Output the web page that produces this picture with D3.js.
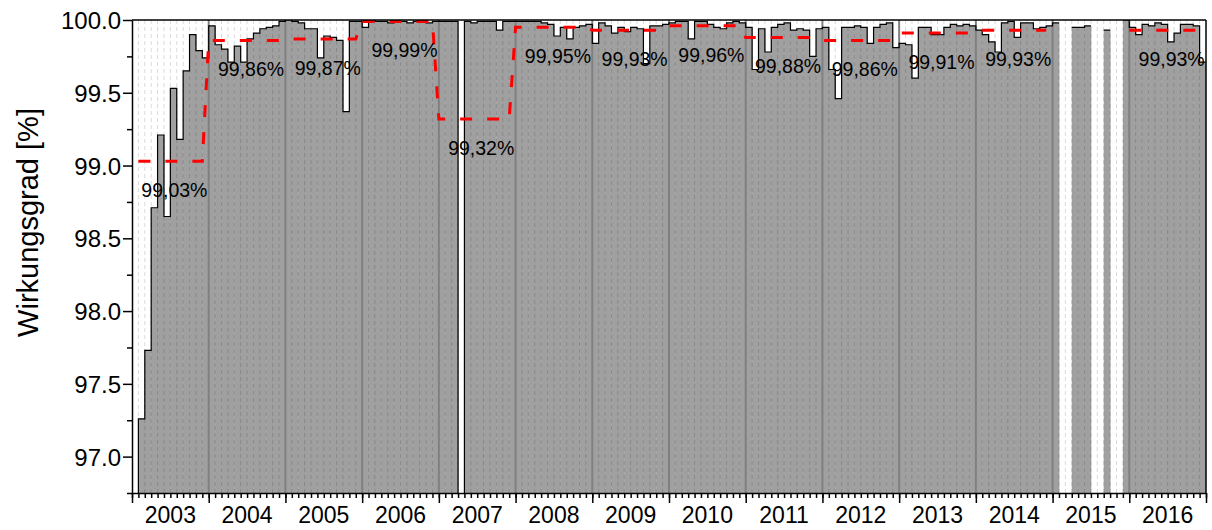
<!DOCTYPE html>
<html>
<head>
<meta charset="utf-8">
<script src="https://cdn.jsdelivr.net/npm/d3@7"></script>
<style>
body { margin: 0; background: #fff; }
svg text { font-family: Arial, "Liberation Sans", sans-serif; }
</style>
</head>
<body>
<div id="chart"></div>
<script>
// monthly efficiency values per year (jan..dec), null = no data
var years = [2003, 2004, 2005, 2006, 2007, 2008, 2009, 2010, 2011, 2012, 2013, 2014, 2015, 2016];
var eff2003 = [null, 97.26, 97.73, 98.71, 99.21, 98.65, 99.53, 99.18, 99.65, 99.90, 99.79, 99.74];
var eff2004 = [99.96, 99.83, 99.80, 99.71, 99.82, 99.71, 99.87, 99.91, 99.94, 99.95, 99.96, 99.99];
var eff2005 = [100.0, 99.99, 99.98, 99.94, 99.94, 99.74, 99.89, 99.88, 99.86, 99.37, 99.99, 99.99];
var eff2006 = [99.95, 100.0, 99.99, 99.99, 99.98, 99.99, 99.99, 99.98, 99.99, 99.99, 99.98, 99.99];
var eff2007 = [99.99, 99.99, 99.99, 92.0, 99.99, 99.98, 99.99, 99.99, 99.99, 99.93, 99.99, 99.99];
var eff2008 = [99.99, 99.99, 99.99, 99.99, 99.98, 99.97, 99.89, 99.95, 99.87, 99.95, 99.96, 99.97];
var eff2009 = [99.84, 99.98, 99.96, 99.91, 99.95, 99.92, 99.95, 99.94, 99.70, 99.96, 99.96, 99.97];
var eff2010 = [99.98, 99.99, 99.99, 99.87, 99.99, 99.99, 99.97, 99.95, 99.94, 99.98, 99.99, 99.98];
var eff2011 = [99.95, 99.66, 99.94, 99.78, 99.95, 99.97, 99.98, 99.93, 99.94, 99.93, 99.75, 99.94];
var eff2012 = [99.95, 99.66, 99.46, 99.95, 99.95, 99.96, 99.95, 99.84, 99.95, 99.97, 99.98, 99.81];
var eff2013 = [99.84, 99.83, 99.60, 99.95, 99.95, 99.90, 99.90, 99.95, 99.97, 99.96, 99.97, 99.96];
var eff2014 = [99.93, 99.90, 99.85, 99.78, 99.98, 99.99, 99.88, 99.98, 99.98, 99.94, 99.95, 99.96];
var eff2015 = [99.98, null, null, 99.95, 99.95, 99.96, null, null, 99.93, null, null, 100.0];
var eff2016 = [99.95, 99.90, 99.97, 99.96, 99.98, 99.97, 99.85, 99.91, 99.97, 99.97, 99.96, 99.71];
var monthly = [eff2003, eff2004, eff2005, eff2006, eff2007, eff2008, eff2009, eff2010,
               eff2011, eff2012, eff2013, eff2014, eff2015, eff2016];

// yearly mean (red dashed line + labels)
var yearAvg = [99.03, 99.86, 99.87, 99.99, 99.32, 99.95, 99.93, 99.96, 99.88, 99.86, 99.91, 99.93, null, 99.93];
var yTicks = [97.0, 97.5, 98.0, 98.5, 99.0, 99.5, 100.0];

var width = 1212, height = 530;
var margin = {top: 20, right: 6, bottom: 37, left: 132};
var y0 = height - margin.bottom;

var svg = d3.select("#chart")
    .append("svg")
    .attr("width", width)
    .attr("height", height);

var x = d3.scaleLinear()
    .domain([years[0], years[years.length - 1] + 1])
    .range([margin.left, width - margin.right]);
var y = d3.scaleLinear()
    .domain([96.75, 100])
    .range([y0, margin.top]);

// flatten into month records
var data = [];
years.forEach(function(yr, i) {
    monthly[i].forEach(function(v, m) {
        data.push({t: yr + m / 12, v: v, avg: yearAvg[i]});
    });
});

svg.append("clipPath").attr("id", "plot")
    .append("rect")
    .attr("x", margin.left).attr("y", margin.top)
    .attr("width", x.range()[1] - margin.left)
    .attr("height", y0 - margin.top);

var plot = svg.append("g").attr("clip-path", "url(#plot)");

// gray bars
plot.append("g")
    .selectAll("rect")
    .data(data.filter(function(d) { return d.v != null; }))
    .enter()
    .append("rect")
    .attr("x", function(d) { return x(d.t); })
    .attr("width", function(d) { return x(d.t + 1 / 12) - x(d.t) + 0.4; })
    .attr("y", function(d) { return Math.min(y(d.v), y0); })
    .attr("height", function(d) { return Math.max(0, y0 - y(d.v)); })
    .style("fill", "#a0a0a0");

// monthly dotted grid
var monthTicks = d3.range(0, (years.length) * 12 + 1).map(function(k) { return years[0] + k / 12; });
plot.append("g")
    .selectAll("line")
    .data(monthTicks.filter(function(t, k) { return k % 12 != 0; }))
    .enter()
    .append("line")
    .attr("x1", function(d) { return x(d); })
    .attr("x2", function(d) { return x(d); })
    .attr("y1", margin.top)
    .attr("y2", y0)
    .style("stroke", "rgba(0,0,0,0.15)")
    .style("stroke-dasharray", "4,3");

// year separators
plot.append("g")
    .selectAll("line")
    .data(years.slice(1))
    .enter()
    .append("line")
    .attr("x1", function(d) { return x(d); })
    .attr("x2", function(d) { return x(d); })
    .attr("y1", margin.top)
    .attr("y2", y0)
    .style("stroke", "#808080")
    .style("stroke-width", 2);

// step outline
var pts = [];
var started = false;
data.forEach(function(d) {
    if (d.v == null) { pts.push(null); return; }
    if (!started) { pts.push([x(d.t), y0]); started = true; }
    pts.push([x(d.t), y(d.v)]);
    pts.push([x(d.t + 1 / 12), y(d.v)]);
});
plot.append("path")
    .datum(pts)
    .attr("d", d3.line().defined(function(d) { return d != null; }))
    .style("fill", "none")
    .style("stroke", "#000")
    .style("stroke-width", 1.2);

// yearly mean line
var avgLine = d3.line()
    .defined(function(d) { return d.v != null && d.avg != null; })
    .x(function(d) { return x(d.t); })
    .y(function(d) { return y(d.avg); });
plot.append("path")
    .datum(data)
    .attr("d", avgLine)
    .style("fill", "none")
    .style("stroke", "#ff0000")
    .style("stroke-width", 3)
    .style("stroke-dasharray", "12,15");

// mean labels
var fmt = d3.format(".2f");
svg.append("g")
    .selectAll("text")
    .data(years.map(function(yr, i) { return {yr: yr, avg: yearAvg[i]}; })
        .filter(function(d) { return d.avg != null; }))
    .enter()
    .append("text")
    .attr("x", function(d) { return x(d.yr + 0.5) + 4; })
    .attr("y", function(d) { return y(d.avg) + 36; })
    .attr("text-anchor", "middle")
    .attr("font-size", 19.5)
    .style("fill", "#000")
    .text(function(d) { return fmt(d.avg).replace(".", ",") + "%"; });

// left axis
var left = svg.append("g")
    .attr("transform", "translate(" + margin.left + ",0)")
    .call(d3.axisLeft(y).tickValues(yTicks).tickFormat(d3.format(".1f")).tickSize(9).tickSizeOuter(0).tickPadding(2));
svg.append("g")
    .attr("transform", "translate(" + margin.left + ",0)")
    .call(d3.axisLeft(y).tickValues(yTicks.map(function(v) { return v - 0.25; })).tickFormat("").tickSize(5).tickSizeOuter(0))
    .select(".domain").remove();
left.selectAll("text").attr("font-size", 24).attr("font-family", "Arial, 'Liberation Sans', sans-serif").attr("dy", "0.36em");

// bottom axis
svg.append("g")
    .attr("transform", "translate(0," + y0 + ")")
    .call(d3.axisBottom(x).tickValues(monthTicks).tickFormat("").tickSize(5).tickSizeOuter(0));
svg.append("g")
    .attr("transform", "translate(0," + y0 + ")")
    .call(d3.axisBottom(x).tickValues(years.concat([years[years.length - 1] + 1])).tickFormat("").tickSize(10).tickSizeOuter(0))
    .select(".domain").remove();
svg.selectAll(".domain, .tick line").style("stroke-width", 1.5);

svg.append("g")
    .selectAll("text")
    .data(years)
    .enter()
    .append("text")
    .attr("x", function(d) { return x(d + 0.5); })
    .attr("y", 523)
    .attr("text-anchor", "middle")
    .attr("font-size", 23)
    .text(function(d) { return d; });

// frame top and right
svg.append("line")
    .attr("x1", margin.left).attr("x2", x.range()[1])
    .attr("y1", margin.top).attr("y2", margin.top)
    .style("stroke", "#000").style("stroke-width", 1.5);
svg.append("line")
    .attr("x1", x.range()[1]).attr("x2", x.range()[1])
    .attr("y1", margin.top).attr("y2", y0)
    .style("stroke", "#000").style("stroke-width", 1.5);

// y title
svg.append("text")
    .attr("transform", "translate(38," + ((margin.top + y0) / 2 - 34) + ") rotate(-90)")
    .attr("text-anchor", "middle")
    .attr("font-size", 29)
    .text("Wirkungsgrad [%]");
</script>
</body>
</html>
